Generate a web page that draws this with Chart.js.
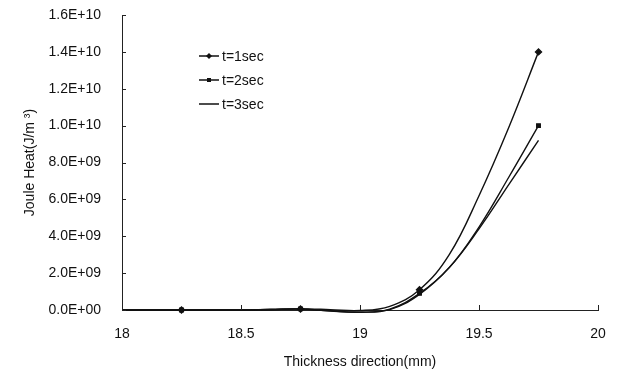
<!DOCTYPE html>
<html>
<head>
<meta charset="utf-8">
<script src="https://cdn.jsdelivr.net/npm/chart.js@4.4.0/dist/chart.umd.min.js"></script>
<style>
  html, body { margin: 0; padding: 0; background: #fff; }
  #wrap { width: 625px; height: 374px; }
</style>
</head>
<body>
<div id="wrap"><canvas id="joule" width="625" height="374"></canvas></div>
<script>
// Thickness positions (mm)
var thickness = [18, 18.125, 18.25, 18.375, 18.5, 18.625, 18.75, 18.875, 19, 19.125, 19.25, 19.375, 19.5, 19.625, 19.75];
// Joule heat in units of 1E+09 J/m3
var heatT1 = [0, 0, 0, 0, 0, 0.03, 0.06, 0.02, -0.03, 0.2, 1.1, 3.0, 6.2, 9.9, 14.0];
var heatT2 = [0, 0, 0, 0, 0, 0.03, 0.06, -0.05, -0.12, 0.05, 0.9, 2.3, 4.5, 7.2, 10.0];
var heatT3 = [0, 0, 0, 0, 0, 0.03, 0.05, -0.06, -0.12, 0.02, 0.85, 2.3, 4.4, 6.8, 9.2];
var seriesNames = ['t=1sec', 't=2sec', 't=3sec'];
var markerAt = [18.25, 18.75, 19.25, 19.75];

function toPoints(vals) {
    return thickness.map(function(x, i) { return { x: x, y: vals[i] * 1e9 }; });
}
function radii(r) {
    return thickness.map(function(x) { return markerAt.indexOf(x) >= 0 ? r : 0; });
}
function expLabel(v) {
    var s = Number(v).toExponential(1).toUpperCase();
    return s.replace(/E([+-])(\d)$/, 'E$10$2');
}

var FONT = '"Liberation Sans", Arial, sans-serif';

// inward tick marks like the original figure
var innerTicks = {
    id: 'innerTicks',
    afterDraw: function(chart) {
        var c = chart.ctx, xs = chart.scales.x, ys = chart.scales.y;
        c.save();
        c.strokeStyle = '#222';
        c.lineWidth = 1;
        xs.ticks.forEach(function(t) {
            var px = Math.round(xs.getPixelForValue(t.value)) + 0.5;
            c.beginPath(); c.moveTo(px, ys.bottom); c.lineTo(px, ys.bottom - 5); c.stroke();
        });
        ys.ticks.forEach(function(t) {
            var py = Math.round(ys.getPixelForValue(t.value)) + 0.5;
            c.beginPath(); c.moveTo(xs.left, py); c.lineTo(xs.left + 4, py); c.stroke();
        });
        c.restore();
    }
};

// legend inside the plot
var innerLegend = {
    id: 'innerLegend',
    afterDraw: function(chart) {
        var c = chart.ctx;
        var x0 = 199, y0 = 56, gap = 24;
        c.save();
        c.font = '14px ' + FONT;
        c.textBaseline = 'middle';
        chart.data.datasets.forEach(function(ds, i) {
            var y = y0 + i * gap;
            c.strokeStyle = '#111';
            c.lineWidth = 1.5;
            c.beginPath(); c.moveTo(x0, y); c.lineTo(x0 + 20, y); c.stroke();
            c.fillStyle = '#111';
            if (i === 0) {
                c.beginPath(); c.moveTo(x0 + 10, y - 3); c.lineTo(x0 + 13, y); c.lineTo(x0 + 10, y + 3); c.lineTo(x0 + 7, y); c.closePath(); c.fill();
            } else if (i === 1) {
                c.fillRect(x0 + 8, y - 2, 4, 4);
            }
            c.fillText(ds.label, x0 + 23, y + 1);
        });
        c.restore();
    }
};

var ctx = document.getElementById('joule').getContext('2d');
var chart = new Chart(ctx, {
    type: 'line',
    data: {
        datasets: [{
            label: seriesNames[0],
            data: toPoints(heatT1),
            borderColor: '#111',
            backgroundColor: '#111',
            borderWidth: 1.4,
            pointStyle: 'rectRot',
            pointRadius: radii(3),
            tension: 0.4
        }, {
            label: seriesNames[1],
            data: toPoints(heatT2),
            borderColor: '#111',
            backgroundColor: '#111',
            borderWidth: 1.4,
            pointStyle: 'rect',
            pointRadius: radii(2.5),
            tension: 0.4
        }, {
            label: seriesNames[2],
            data: toPoints(heatT3),
            borderColor: '#111',
            backgroundColor: '#111',
            borderWidth: 1.4,
            pointRadius: 0,
            tension: 0.4
        }]
    },
    plugins: [innerTicks, innerLegend],
    options: {
        responsive: false,
        animation: false,
        clip: false,
        layout: { padding: { top: 15, right: 27, bottom: 0, left: 18 } },
        plugins: {
            legend: { display: false },
            tooltip: { enabled: false }
        },
        scales: {
            x: {
                type: 'linear',
                min: 18,
                max: 20,
                afterFit: function(s) { s.height = 64; },
                ticks: {
                    stepSize: 0.5,
                    color: '#111',
                    padding: 16,
                    font: { family: FONT, size: 14 },
                    callback: function(v) { return String(v); }
                },
                grid: { display: false, drawTicks: false },
                border: { color: '#222', width: 1 },
                title: {
                    display: true,
                    text: 'Thickness direction(mm)',
                    color: '#111',
                    padding: { top: 0, bottom: 3 },
                    font: { family: FONT, size: 14 }
                }
            },
            y: {
                min: 0,
                max: 1.6e10,
                afterFit: function(s) { s.width = 104; s.paddingTop = 0; s.paddingBottom = 0; },
                ticks: {
                    stepSize: 2e9,
                    color: '#111',
                    padding: 21,
                    font: { family: FONT, size: 14 },
                    callback: function(v) { return expLabel(v); }
                },
                grid: { display: false, drawTicks: false },
                border: { color: '#222', width: 1 },
                title: {
                    display: true,
                    text: 'Joule Heat(J/m ³)',
                    color: '#111',
                    padding: { bottom: 0 },
                    font: { family: FONT, size: 14 }
                }
            }
        }
    }
});
</script>
</body>
</html>
